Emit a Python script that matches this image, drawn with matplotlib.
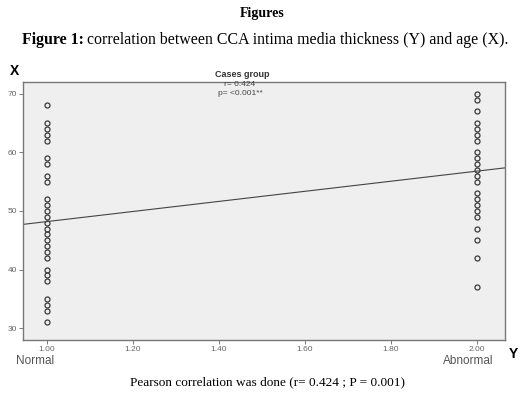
import matplotlib.pyplot as plt
import numpy as np

# ages (X), one list per group
normal_age = [68, 65, 64, 63, 62, 59, 58, 56, 55,
              52, 51, 50, 49, 48, 47, 46, 45, 44, 43, 42,
              40, 39, 38, 35, 34, 33, 31]
abnormal_age = [70, 69, 67, 65, 64, 63, 62, 60, 59, 58, 57, 56, 55,
                53, 52, 51, 50, 49, 47, 45, 42, 37]
group_code = [1.0, 2.0]

# fitted line as drawn in the figure
fit_intercept = 39.6
fit_slope = 8.6

x_ticks = [1.0, 1.2, 1.4, 1.6, 1.8, 2.0]
y_ticks = [30, 40, 50, 60, 70]

W, H = 523, 397
fig = plt.figure(figsize=(W / 100, H / 100), dpi=100)
fig.patch.set_facecolor("white")

serif = ["Liberation Serif", "DejaVu Serif"]
sans = ["Liberation Sans", "DejaVu Sans"]

# page text above the chart
fig.text(262 / W, 1 - 14 / H, "Figures", family=serif, fontsize=10,
         fontweight="bold", ha="center", va="center")
t1 = fig.text(22 / W, 1 - 40 / H, "Figure 1:", family=serif, fontsize=11.4,
              fontweight="bold", ha="left", va="center")
renderer = fig.canvas.get_renderer()
bb = t1.get_window_extent(renderer)
fig.text((bb.x1 + 3) / W, 1 - 40 / H,
         "correlation between CCA intima media thickness (Y) and age (X).",
         family=serif, fontsize=11.4, ha="left", va="center")

left, right, top, bottom = 23, 505, 82, 340
ax = fig.add_axes([left / W, 1 - bottom / H, (right - left) / W, (bottom - top) / H])
ax.set_facecolor("#efefef")

xs_n = np.full(len(normal_age), group_code[0])
xs_a = np.full(len(abnormal_age), group_code[1])
ax.plot(xs_n, normal_age, "o", mfc="none", mec="#3a3a3a", ms=3.6, mew=0.9)
ax.plot(xs_a, abnormal_age, "o", mfc="none", mec="#3a3a3a", ms=3.6, mew=0.9)

xlim = (0.944, 2.065)
xl = np.array(xlim)
ax.plot(xl, fit_intercept + fit_slope * xl, color="#444444", lw=0.8)

ax.set_xlim(*xlim)
ax.set_ylim(28, 72)
ax.set_xticks(x_ticks)
ax.set_xticklabels([f"{t:.2f}" for t in x_ticks])
ax.set_yticks(y_ticks)
ax.tick_params(axis="both", labelsize=6, colors="#666666", length=3, width=0.6,
               direction="out", pad=1.5)
for lab in ax.get_xticklabels() + ax.get_yticklabels():
    lab.set_family(sans)
for side in ax.spines.values():
    side.set_color("#777777")
    side.set_linewidth(1.0)

# axis letters and group names
fig.text(15 / W, 1 - 71 / H, "X", family=sans, fontsize=10, fontweight="bold",
         ha="center", va="center")
fig.text(513 / W, 1 - 354 / H, "Y", family=sans, fontsize=10, fontweight="bold",
         ha="center", va="center")
fig.text(35 / W, 1 - 361 / H, "Normal", family=sans, fontsize=8.5,
         color="#555555", ha="center", va="center")
fig.text(468 / W, 1 - 361 / H, "Abnormal", family=sans, fontsize=8.5,
         color="#555555", ha="center", va="center")

# stats header
fig.text(242 / W, 1 - 74.5 / H, "Cases group", family=sans, fontsize=6.5,
         fontweight="bold", color="#333333", ha="center", va="center")
fig.text(240 / W, 1 - 85 / H, "r= 0.424", family=sans, fontsize=6,
         color="#444444", ha="center", va="center")
fig.text(240 / W, 1 - 93.5 / H, "p= <0.001**", family=sans, fontsize=6,
         color="#444444", ha="center", va="center")

fig.text(268 / W, 1 - 382 / H, "Pearson correlation was done (r= 0.424 ; P = 0.001)",
         family=serif, fontsize=9.5, ha="center", va="center")

fig.savefig("out.png", dpi=100)
